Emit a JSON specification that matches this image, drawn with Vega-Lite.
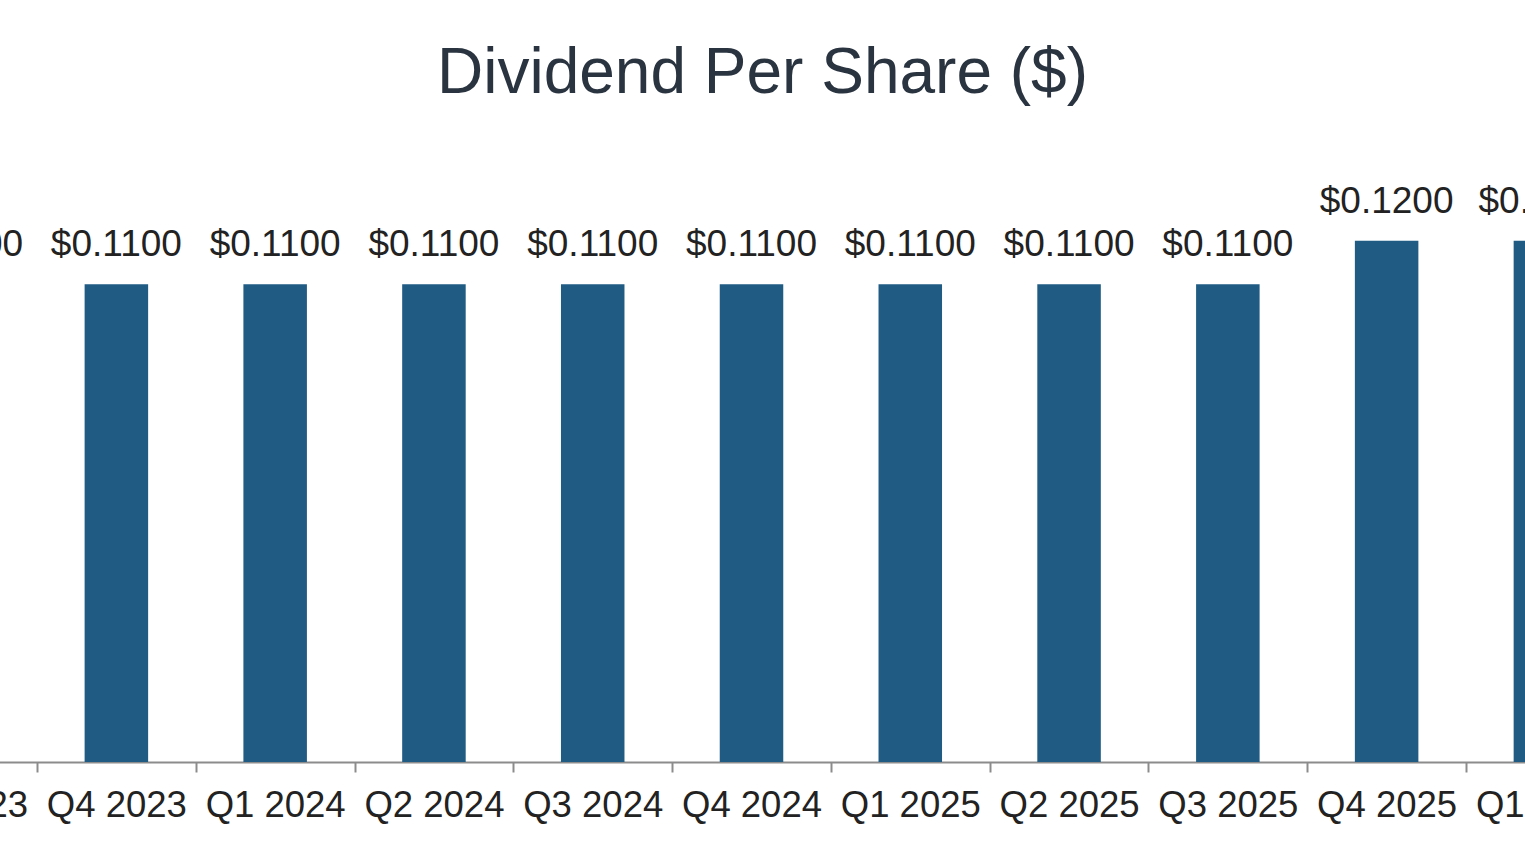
{
  "$schema": "https://vega.github.io/schema/vega-lite/v6.json",
  "description": "Dividend Per Share",
  "width": 1525,
  "height": 608,
  "autosize": {"type": "none"},
  "padding": {"top": 154, "left": 0, "right": 0, "bottom": 96},
  "background": "white",
  "config": {
    "font": "Liberation Sans",
    "view": {"stroke": null}
  },
  "title": {
    "text": "Dividend Per Share ($)",
    "fontSize": 64,
    "fontWeight": "normal",
    "color": "#2a3440",
    "anchor": "middle",
    "baseline": "alphabetic",
    "offset": -3
  },
  "data": {
    "values": [
      {"quarter": "Q3 2023", "dps": 0.11},
      {"quarter": "Q4 2023", "dps": 0.11},
      {"quarter": "Q1 2024", "dps": 0.11},
      {"quarter": "Q2 2024", "dps": 0.11},
      {"quarter": "Q3 2024", "dps": 0.11},
      {"quarter": "Q4 2024", "dps": 0.11},
      {"quarter": "Q1 2025", "dps": 0.11},
      {"quarter": "Q2 2025", "dps": 0.11},
      {"quarter": "Q3 2025", "dps": 0.11},
      {"quarter": "Q4 2025", "dps": 0.12},
      {"quarter": "Q1 2026", "dps": 0.12}
    ]
  },
  "encoding": {
    "x": {
      "field": "quarter",
      "type": "nominal",
      "sort": null,
      "title": null,
      "scale": {"range": [-121.8, 1624.8], "paddingInner": 0, "paddingOuter": 0},
      "axis": {
        "labelAngle": 0,
        "labelFontSize": 36.5,
        "labelColor": "#222222",
        "labelPadding": 15,
        "domainColor": "#8c8c8c",
        "domainWidth": 2,
        "tickColor": "#8c8c8c",
        "tickWidth": 2,
        "tickSize": 10,
        "tickBand": "extent",
        "labelOverlap": false,
        "labelBound": false,
        "labelFlush": false
      }
    },
    "y": {
      "field": "dps",
      "type": "quantitative",
      "scale": {"domain": [0, 0.14], "nice": false},
      "axis": null
    }
  },
  "layer": [
    {
      "mark": {"type": "bar", "color": "#1f5b83", "width": {"band": 0.4}, "clip": true}
    },
    {
      "mark": {"type": "text", "fontSize": 37, "color": "#222222", "baseline": "alphabetic", "dy": -28, "clip": true},
      "encoding": {
        "text": {"field": "dps", "type": "quantitative", "format": "$.4f"}
      }
    }
  ]
}
